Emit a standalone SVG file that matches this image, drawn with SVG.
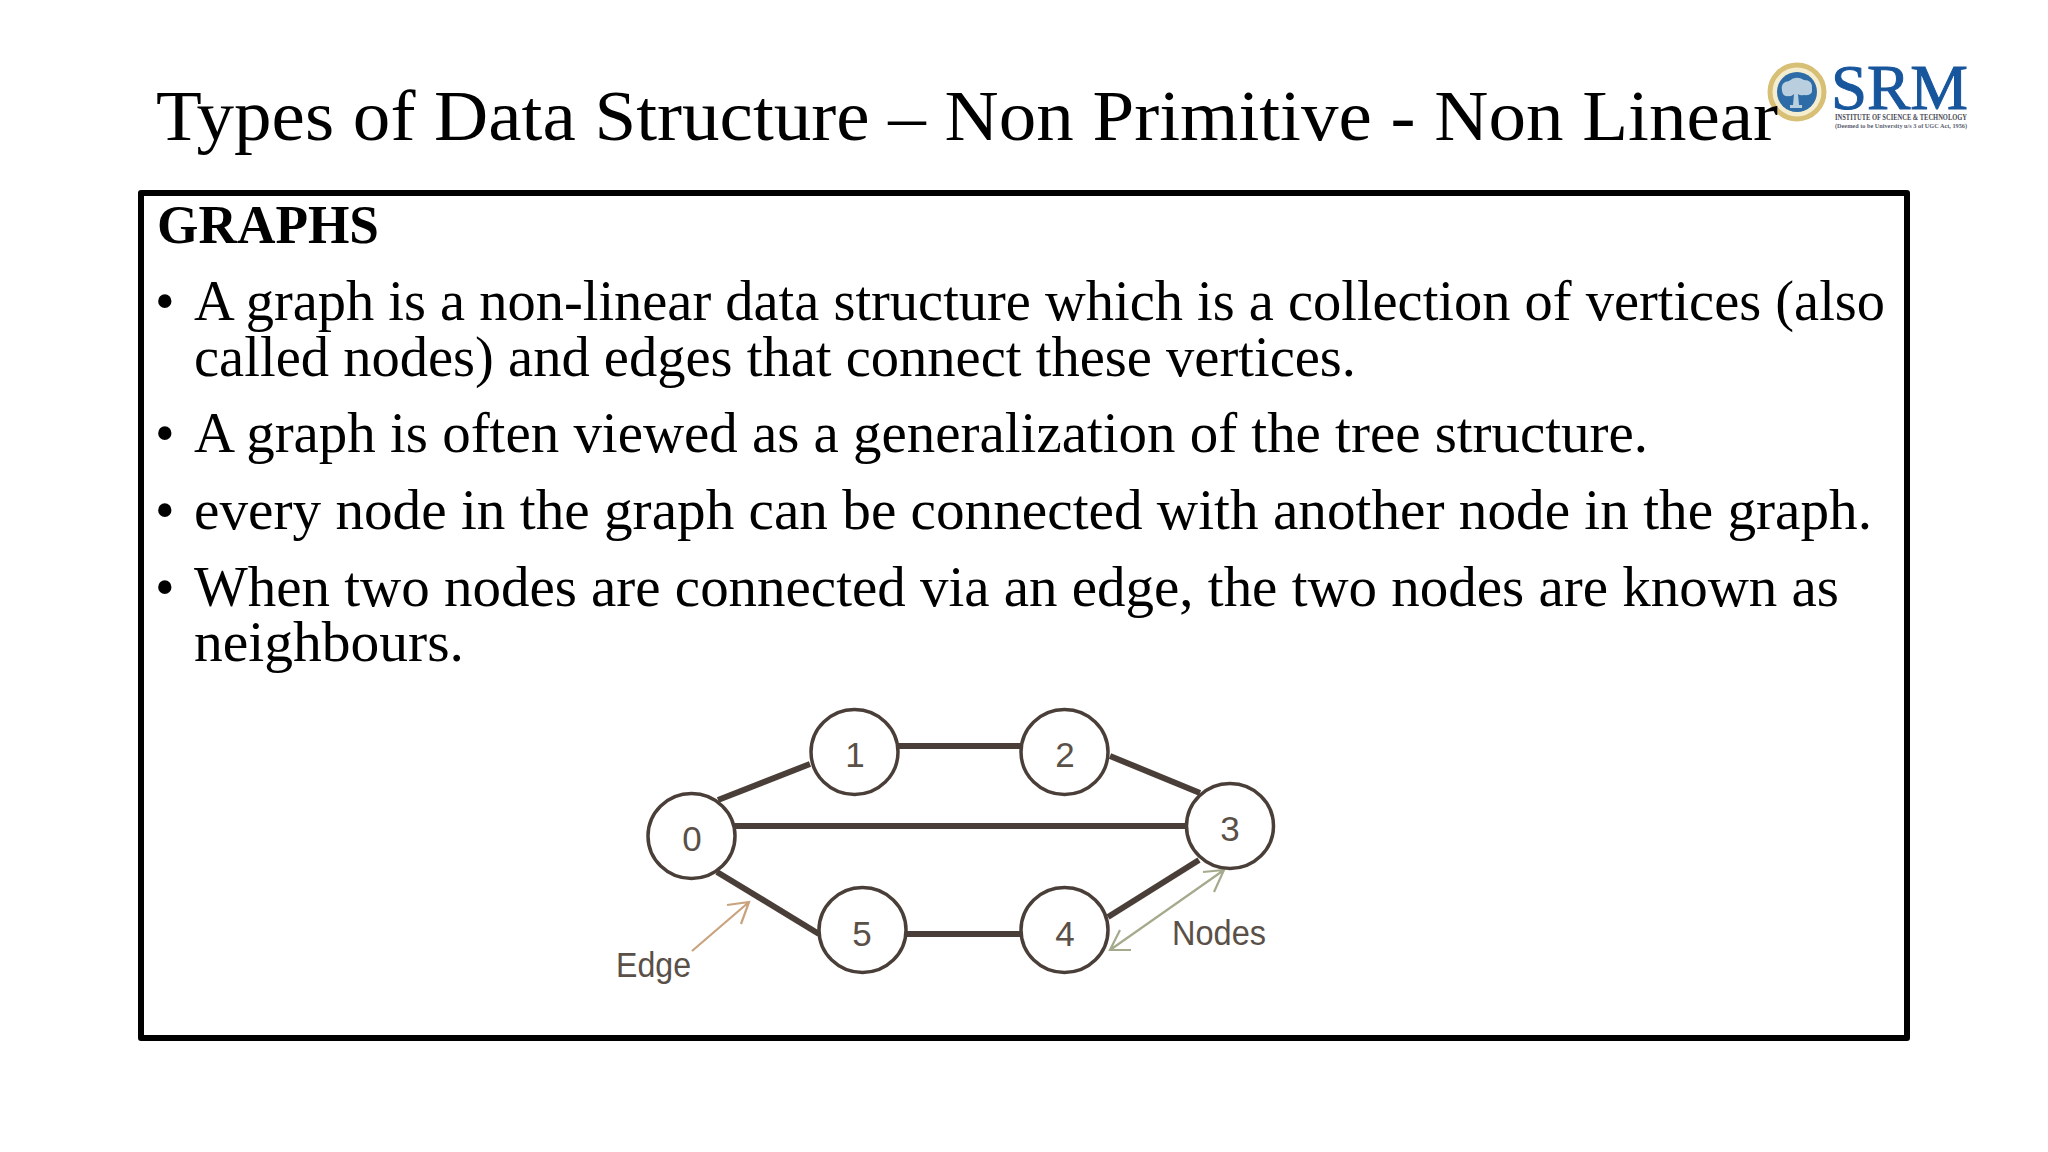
<svg xmlns="http://www.w3.org/2000/svg" width="2048" height="1152" viewBox="0 0 2048 1152">
<style>
.t{font-family:"Liberation Serif",serif;fill:#000}
.b{font-size:56px}
.n{fill:#fff;stroke:#4a3f38;stroke-width:3.5}
.e{stroke:#4a3f38;stroke-width:6;fill:none}
.l{font-family:"Liberation Sans",Arial,sans-serif;font-size:35px;fill:#5a5048}
.d{text-anchor:middle}
</style>
<rect width="2048" height="1152" fill="#fff"/>
<g id="logo">
<circle cx="1797" cy="92" r="27" fill="#f4edd0" stroke="#d8bf76" stroke-width="5"/>
<circle cx="1797" cy="92" r="20" fill="#2d6ca6"/>
<path d="M1782 91q-2-9 7-10q7-6 15-1q9 0 8 9q1 7-8 6q-4 1-6-1l1 11h3v3h-12v-3h3l1-11q-3 3-6 2q-5 1-6-5z" fill="#b9cfe0"/>
<text x="1831" y="109" font-family="Liberation Serif,serif" font-size="64" fill="#17559c" stroke="#17559c" stroke-width="1" textLength="137" lengthAdjust="spacingAndGlyphs">SRM</text>
<text x="1835" y="120" font-family="Liberation Serif,serif" font-size="8.5" font-weight="bold" fill="#4a4a55" textLength="132" lengthAdjust="spacingAndGlyphs">INSTITUTE OF SCIENCE &amp; TECHNOLOGY</text>
<text x="1835" y="128" font-family="Liberation Serif,serif" font-size="7" font-weight="bold" fill="#5a6070" textLength="132" lengthAdjust="spacingAndGlyphs">(Deemed to be University u/s 3 of UGC Act, 1956)</text>
</g>
<text class="t" x="156" y="140" font-size="72" textLength="1622" lengthAdjust="spacingAndGlyphs">Types of Data Structure – Non Primitive - Non Linear</text>
<rect id="frame" x="141" y="193" width="1766" height="845" fill="none" stroke="#000" stroke-width="6" stroke-linejoin="round"/>
<g id="content">
<text class="t" x="157" y="243" font-size="54" font-weight="bold" textLength="222" lengthAdjust="spacingAndGlyphs">GRAPHS</text>
<text class="t b" x="155" y="320">•</text>
<text class="t b" x="194" y="320" textLength="1691" lengthAdjust="spacingAndGlyphs">A graph is a non-linear data structure which is a collection of vertices (also</text>
<text class="t b" x="194" y="376" textLength="1162" lengthAdjust="spacingAndGlyphs">called nodes) and edges that connect these vertices.</text>
<text class="t b" x="155" y="452">•</text>
<text class="t b" x="194" y="452" textLength="1454" lengthAdjust="spacingAndGlyphs">A graph is often viewed as a generalization of the tree structure.</text>
<text class="t b" x="155" y="529">•</text>
<text class="t b" x="194" y="529" textLength="1678" lengthAdjust="spacingAndGlyphs">every node in the graph can be connected with another node in the graph.</text>
<text class="t b" x="155" y="606">•</text>
<text class="t b" x="194" y="606" textLength="1645" lengthAdjust="spacingAndGlyphs">When two nodes are connected via an edge, the two nodes are known as</text>
<text class="t b" x="194" y="661" textLength="270" lengthAdjust="spacingAndGlyphs">neighbours.</text>
</g>
<g id="connectors">
<path class="e" d="M718 800L810 764"/>
<path class="e" d="M898 746H1021"/>
<path class="e" d="M1110 756L1200 793"/>
<path class="e" d="M735 826H1186"/>
<path class="e" d="M717 872L819 934"/>
<path class="e" d="M906 934H1021"/>
<path class="e" d="M1108 917L1199 860"/>
<path d="M692 951L749 902M727 905L749 902L741 924" fill="none" stroke="#c9a27e" stroke-width="2.2"/>
<path d="M1110 950L1224 870M1131 950L1110 950L1120 930M1203 872L1224 870L1214 892" fill="none" stroke="#a5aa8c" stroke-width="2.2"/>
</g>
<g id="node0"><ellipse class="n" cx="691.5" cy="836" rx="43.5" ry="42.5"/><text class="l d" x="692" y="851">0</text></g>
<g id="node1"><ellipse class="n" cx="854.5" cy="752" rx="43.5" ry="42.5"/><text class="l d" x="855" y="767">1</text></g>
<g id="node2"><ellipse class="n" cx="1064.5" cy="752" rx="43.5" ry="42.5"/><text class="l d" x="1065" y="767">2</text></g>
<g id="node3"><ellipse class="n" cx="1230" cy="826" rx="43.5" ry="42.5"/><text class="l d" x="1230" y="841">3</text></g>
<g id="node4"><ellipse class="n" cx="1064.5" cy="930" rx="43.5" ry="42.5"/><text class="l d" x="1065" y="946">4</text></g>
<g id="node5"><ellipse class="n" cx="862.5" cy="930" rx="43.5" ry="42.5"/><text class="l d" x="862" y="946">5</text></g>
<text class="l" x="616" y="977" textLength="75" lengthAdjust="spacingAndGlyphs">Edge</text>
<text class="l" x="1172" y="945" textLength="94" lengthAdjust="spacingAndGlyphs">Nodes</text>
</svg>
